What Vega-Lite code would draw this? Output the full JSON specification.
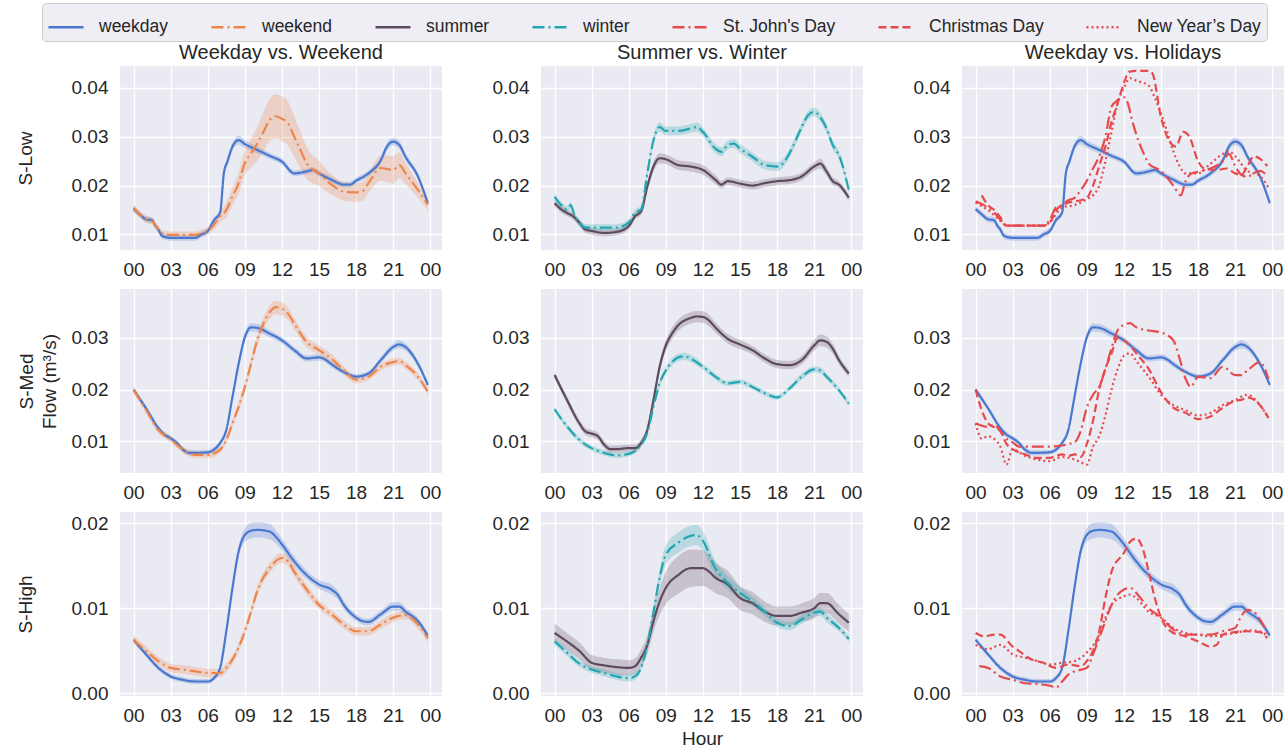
{
"$schema": "https://vega.github.io/schema/vega-lite/v6.json",
"padding": {"left": 16, "top": 2, "right": 0, "bottom": 0},
"background": "white",
"config": {
  "font": "Liberation Sans",
  "view": {"fill": "#EAEAF2", "stroke": null},
  "axis": {"grid": true, "gridColor": "#FFFFFF", "gridWidth": 1.3, "domain": false, "ticks": false, "labelFontSize": 19, "labelColor": "#262626", "titleFontSize": 19, "titleFontWeight": "normal", "titleColor": "#262626"},
  "axisX": {"labelPadding": 10, "labelFlush": false},
  "axisY": {"labelPadding": 12, "titleLineHeight": 23},
  "title": {"fontSize": 20, "fontWeight": "normal", "color": "#262626", "offset": 3}
},
"datasets": {"d": [
{"r":1,"s":"weekday","h":0,"v":0.0152,"lo":0.0146,"hi":0.0158},
{"r":1,"s":"weekday","h":0.5,"v":0.0141,"lo":0.0135,"hi":0.0147},
{"r":1,"s":"weekday","h":1,"v":0.0131,"lo":0.0125,"hi":0.0137},
{"r":1,"s":"weekday","h":1.5,"v":0.0129,"lo":0.0123,"hi":0.0135},
{"r":1,"s":"weekday","h":1.75,"v":0.0118,"lo":0.0112,"hi":0.0124},
{"r":1,"s":"weekday","h":2,"v":0.0110,"lo":0.0104,"hi":0.0116},
{"r":1,"s":"weekday","h":2.3,"v":0.0097,"lo":0.0091,"hi":0.0103},
{"r":1,"s":"weekday","h":3,"v":0.0093,"lo":0.0087,"hi":0.0099},
{"r":1,"s":"weekday","h":4,"v":0.0093,"lo":0.0087,"hi":0.0099},
{"r":1,"s":"weekday","h":5,"v":0.0093,"lo":0.0087,"hi":0.0099},
{"r":1,"s":"weekday","h":5.5,"v":0.0100,"lo":0.0094,"hi":0.0106},
{"r":1,"s":"weekday","h":6,"v":0.0107,"lo":0.0101,"hi":0.0113},
{"r":1,"s":"weekday","h":6.5,"v":0.0129,"lo":0.0123,"hi":0.0135},
{"r":1,"s":"weekday","h":7,"v":0.0145,"lo":0.0139,"hi":0.0151},
{"r":1,"s":"weekday","h":7.3,"v":0.0225,"lo":0.0218,"hi":0.0232},
{"r":1,"s":"weekday","h":7.6,"v":0.0250,"lo":0.0242,"hi":0.0258},
{"r":1,"s":"weekday","h":8,"v":0.0280,"lo":0.0272,"hi":0.0288},
{"r":1,"s":"weekday","h":8.5,"v":0.0293,"lo":0.0284,"hi":0.0302},
{"r":1,"s":"weekday","h":9,"v":0.0285,"lo":0.0277,"hi":0.0293},
{"r":1,"s":"weekday","h":10,"v":0.0273,"lo":0.0266,"hi":0.0280},
{"r":1,"s":"weekday","h":11,"v":0.0261,"lo":0.0255,"hi":0.0267},
{"r":1,"s":"weekday","h":12,"v":0.0249,"lo":0.0243,"hi":0.0255},
{"r":1,"s":"weekday","h":13,"v":0.0225,"lo":0.0219,"hi":0.0231},
{"r":1,"s":"weekday","h":14,"v":0.0229,"lo":0.0223,"hi":0.0235},
{"r":1,"s":"weekday","h":14.5,"v":0.0232,"lo":0.0226,"hi":0.0238},
{"r":1,"s":"weekday","h":15,"v":0.0225,"lo":0.0219,"hi":0.0231},
{"r":1,"s":"weekday","h":16,"v":0.0212,"lo":0.0206,"hi":0.0218},
{"r":1,"s":"weekday","h":17,"v":0.0202,"lo":0.0196,"hi":0.0208},
{"r":1,"s":"weekday","h":17.5,"v":0.0202,"lo":0.0196,"hi":0.0208},
{"r":1,"s":"weekday","h":18,"v":0.0210,"lo":0.0204,"hi":0.0216},
{"r":1,"s":"weekday","h":19,"v":0.0225,"lo":0.0219,"hi":0.0231},
{"r":1,"s":"weekday","h":20,"v":0.0252,"lo":0.0245,"hi":0.0259},
{"r":1,"s":"weekday","h":20.5,"v":0.0280,"lo":0.0272,"hi":0.0288},
{"r":1,"s":"weekday","h":21,"v":0.0290,"lo":0.0282,"hi":0.0298},
{"r":1,"s":"weekday","h":21.5,"v":0.0283,"lo":0.0275,"hi":0.0291},
{"r":1,"s":"weekday","h":22,"v":0.0259,"lo":0.0252,"hi":0.0266},
{"r":1,"s":"weekday","h":23,"v":0.0219,"lo":0.0213,"hi":0.0225},
{"r":1,"s":"weekday","h":23.8,"v":0.0164,"lo":0.0158,"hi":0.0170},
{"r":1,"s":"weekend","h":0,"v":0.0154,"lo":0.0147,"hi":0.0161},
{"r":1,"s":"weekend","h":1,"v":0.0131,"lo":0.0124,"hi":0.0138},
{"r":1,"s":"weekend","h":1.5,"v":0.0127,"lo":0.0120,"hi":0.0134},
{"r":1,"s":"weekend","h":2,"v":0.0110,"lo":0.0103,"hi":0.0117},
{"r":1,"s":"weekend","h":2.5,"v":0.0100,"lo":0.0093,"hi":0.0107},
{"r":1,"s":"weekend","h":3,"v":0.0099,"lo":0.0092,"hi":0.0106},
{"r":1,"s":"weekend","h":4,"v":0.0099,"lo":0.0092,"hi":0.0106},
{"r":1,"s":"weekend","h":5,"v":0.0099,"lo":0.0092,"hi":0.0106},
{"r":1,"s":"weekend","h":5.5,"v":0.0103,"lo":0.0096,"hi":0.0110},
{"r":1,"s":"weekend","h":6,"v":0.0107,"lo":0.0099,"hi":0.0115},
{"r":1,"s":"weekend","h":6.5,"v":0.0120,"lo":0.0110,"hi":0.0130},
{"r":1,"s":"weekend","h":7,"v":0.0137,"lo":0.0125,"hi":0.0149},
{"r":1,"s":"weekend","h":7.5,"v":0.0150,"lo":0.0135,"hi":0.0165},
{"r":1,"s":"weekend","h":8,"v":0.0178,"lo":0.0160,"hi":0.0196},
{"r":1,"s":"weekend","h":8.5,"v":0.0205,"lo":0.0183,"hi":0.0227},
{"r":1,"s":"weekend","h":9,"v":0.0246,"lo":0.0221,"hi":0.0271},
{"r":1,"s":"weekend","h":9.5,"v":0.0266,"lo":0.0236,"hi":0.0296},
{"r":1,"s":"weekend","h":10,"v":0.0286,"lo":0.0251,"hi":0.0321},
{"r":1,"s":"weekend","h":10.5,"v":0.0310,"lo":0.0270,"hi":0.0350},
{"r":1,"s":"weekend","h":11,"v":0.0334,"lo":0.0291,"hi":0.0377},
{"r":1,"s":"weekend","h":11.5,"v":0.0342,"lo":0.0297,"hi":0.0387},
{"r":1,"s":"weekend","h":12,"v":0.0337,"lo":0.0291,"hi":0.0383},
{"r":1,"s":"weekend","h":12.5,"v":0.0327,"lo":0.0282,"hi":0.0372},
{"r":1,"s":"weekend","h":13,"v":0.0300,"lo":0.0258,"hi":0.0342},
{"r":1,"s":"weekend","h":13.5,"v":0.0273,"lo":0.0235,"hi":0.0311},
{"r":1,"s":"weekend","h":14,"v":0.0246,"lo":0.0213,"hi":0.0279},
{"r":1,"s":"weekend","h":15,"v":0.0225,"lo":0.0199,"hi":0.0251},
{"r":1,"s":"weekend","h":16,"v":0.0202,"lo":0.0181,"hi":0.0223},
{"r":1,"s":"weekend","h":17,"v":0.0188,"lo":0.0169,"hi":0.0207},
{"r":1,"s":"weekend","h":18,"v":0.0186,"lo":0.0167,"hi":0.0205},
{"r":1,"s":"weekend","h":18.5,"v":0.0188,"lo":0.0169,"hi":0.0207},
{"r":1,"s":"weekend","h":19,"v":0.0205,"lo":0.0185,"hi":0.0225},
{"r":1,"s":"weekend","h":20,"v":0.0236,"lo":0.0210,"hi":0.0262},
{"r":1,"s":"weekend","h":21,"v":0.0232,"lo":0.0204,"hi":0.0260},
{"r":1,"s":"weekend","h":21.5,"v":0.0242,"lo":0.0215,"hi":0.0269},
{"r":1,"s":"weekend","h":22,"v":0.0225,"lo":0.0203,"hi":0.0247},
{"r":1,"s":"weekend","h":23,"v":0.0191,"lo":0.0175,"hi":0.0207},
{"r":1,"s":"weekend","h":23.8,"v":0.0161,"lo":0.0149,"hi":0.0173},
{"r":1,"s":"summer","h":0,"v":0.0164,"lo":0.0157,"hi":0.0171},
{"r":1,"s":"summer","h":0.5,"v":0.0152,"lo":0.0145,"hi":0.0159},
{"r":1,"s":"summer","h":1,"v":0.0144,"lo":0.0137,"hi":0.0151},
{"r":1,"s":"summer","h":1.5,"v":0.0137,"lo":0.0130,"hi":0.0144},
{"r":1,"s":"summer","h":2,"v":0.0124,"lo":0.0117,"hi":0.0131},
{"r":1,"s":"summer","h":2.5,"v":0.0110,"lo":0.0103,"hi":0.0117},
{"r":1,"s":"summer","h":3,"v":0.0107,"lo":0.0100,"hi":0.0114},
{"r":1,"s":"summer","h":4,"v":0.0103,"lo":0.0096,"hi":0.0110},
{"r":1,"s":"summer","h":5,"v":0.0105,"lo":0.0098,"hi":0.0112},
{"r":1,"s":"summer","h":6,"v":0.0117,"lo":0.0110,"hi":0.0124},
{"r":1,"s":"summer","h":6.5,"v":0.0137,"lo":0.0130,"hi":0.0144},
{"r":1,"s":"summer","h":7,"v":0.0147,"lo":0.0140,"hi":0.0154},
{"r":1,"s":"summer","h":7.5,"v":0.0198,"lo":0.0189,"hi":0.0207},
{"r":1,"s":"summer","h":8,"v":0.0239,"lo":0.0229,"hi":0.0249},
{"r":1,"s":"summer","h":8.5,"v":0.0256,"lo":0.0246,"hi":0.0266},
{"r":1,"s":"summer","h":9,"v":0.0254,"lo":0.0244,"hi":0.0264},
{"r":1,"s":"summer","h":10,"v":0.0242,"lo":0.0232,"hi":0.0252},
{"r":1,"s":"summer","h":11,"v":0.0239,"lo":0.0229,"hi":0.0249},
{"r":1,"s":"summer","h":12,"v":0.0232,"lo":0.0222,"hi":0.0242},
{"r":1,"s":"summer","h":13,"v":0.0212,"lo":0.0203,"hi":0.0221},
{"r":1,"s":"summer","h":13.5,"v":0.0202,"lo":0.0194,"hi":0.0210},
{"r":1,"s":"summer","h":14,"v":0.0209,"lo":0.0201,"hi":0.0217},
{"r":1,"s":"summer","h":15,"v":0.0204,"lo":0.0196,"hi":0.0212},
{"r":1,"s":"summer","h":16,"v":0.0200,"lo":0.0192,"hi":0.0208},
{"r":1,"s":"summer","h":17,"v":0.0205,"lo":0.0197,"hi":0.0213},
{"r":1,"s":"summer","h":18,"v":0.0209,"lo":0.0201,"hi":0.0217},
{"r":1,"s":"summer","h":19,"v":0.0211,"lo":0.0203,"hi":0.0219},
{"r":1,"s":"summer","h":20,"v":0.0219,"lo":0.0211,"hi":0.0227},
{"r":1,"s":"summer","h":21,"v":0.0239,"lo":0.0230,"hi":0.0248},
{"r":1,"s":"summer","h":21.5,"v":0.0245,"lo":0.0235,"hi":0.0255},
{"r":1,"s":"summer","h":22,"v":0.0229,"lo":0.0220,"hi":0.0238},
{"r":1,"s":"summer","h":22.5,"v":0.0209,"lo":0.0201,"hi":0.0217},
{"r":1,"s":"summer","h":23,"v":0.0202,"lo":0.0195,"hi":0.0209},
{"r":1,"s":"summer","h":23.8,"v":0.0175,"lo":0.0168,"hi":0.0182},
{"r":1,"s":"winter","h":0,"v":0.0177,"lo":0.0170,"hi":0.0184},
{"r":1,"s":"winter","h":0.5,"v":0.0161,"lo":0.0154,"hi":0.0168},
{"r":1,"s":"winter","h":1,"v":0.0151,"lo":0.0144,"hi":0.0158},
{"r":1,"s":"winter","h":1.3,"v":0.0160,"lo":0.0153,"hi":0.0167},
{"r":1,"s":"winter","h":1.6,"v":0.0140,"lo":0.0133,"hi":0.0147},
{"r":1,"s":"winter","h":2,"v":0.0124,"lo":0.0117,"hi":0.0131},
{"r":1,"s":"winter","h":2.5,"v":0.0114,"lo":0.0107,"hi":0.0121},
{"r":1,"s":"winter","h":3,"v":0.0114,"lo":0.0107,"hi":0.0121},
{"r":1,"s":"winter","h":4,"v":0.0114,"lo":0.0107,"hi":0.0121},
{"r":1,"s":"winter","h":5,"v":0.0114,"lo":0.0107,"hi":0.0121},
{"r":1,"s":"winter","h":6,"v":0.0124,"lo":0.0117,"hi":0.0131},
{"r":1,"s":"winter","h":6.5,"v":0.0144,"lo":0.0137,"hi":0.0151},
{"r":1,"s":"winter","h":7,"v":0.0151,"lo":0.0144,"hi":0.0158},
{"r":1,"s":"winter","h":7.5,"v":0.0225,"lo":0.0216,"hi":0.0234},
{"r":1,"s":"winter","h":8,"v":0.0293,"lo":0.0284,"hi":0.0302},
{"r":1,"s":"winter","h":8.5,"v":0.0320,"lo":0.0311,"hi":0.0329},
{"r":1,"s":"winter","h":9,"v":0.0312,"lo":0.0303,"hi":0.0321},
{"r":1,"s":"winter","h":10,"v":0.0312,"lo":0.0303,"hi":0.0321},
{"r":1,"s":"winter","h":11,"v":0.0317,"lo":0.0308,"hi":0.0326},
{"r":1,"s":"winter","h":11.5,"v":0.0320,"lo":0.0311,"hi":0.0329},
{"r":1,"s":"winter","h":12,"v":0.0310,"lo":0.0301,"hi":0.0319},
{"r":1,"s":"winter","h":13,"v":0.0276,"lo":0.0267,"hi":0.0285},
{"r":1,"s":"winter","h":13.5,"v":0.0269,"lo":0.0260,"hi":0.0278},
{"r":1,"s":"winter","h":14,"v":0.0283,"lo":0.0274,"hi":0.0292},
{"r":1,"s":"winter","h":14.5,"v":0.0286,"lo":0.0277,"hi":0.0295},
{"r":1,"s":"winter","h":15,"v":0.0276,"lo":0.0267,"hi":0.0285},
{"r":1,"s":"winter","h":16,"v":0.0259,"lo":0.0250,"hi":0.0268},
{"r":1,"s":"winter","h":17,"v":0.0242,"lo":0.0233,"hi":0.0251},
{"r":1,"s":"winter","h":18,"v":0.0239,"lo":0.0230,"hi":0.0248},
{"r":1,"s":"winter","h":18.5,"v":0.0246,"lo":0.0237,"hi":0.0255},
{"r":1,"s":"winter","h":19,"v":0.0266,"lo":0.0257,"hi":0.0275},
{"r":1,"s":"winter","h":20,"v":0.0320,"lo":0.0311,"hi":0.0329},
{"r":1,"s":"winter","h":20.5,"v":0.0344,"lo":0.0335,"hi":0.0353},
{"r":1,"s":"winter","h":21,"v":0.0351,"lo":0.0342,"hi":0.0360},
{"r":1,"s":"winter","h":21.5,"v":0.0340,"lo":0.0331,"hi":0.0349},
{"r":1,"s":"winter","h":22,"v":0.0317,"lo":0.0308,"hi":0.0326},
{"r":1,"s":"winter","h":22.5,"v":0.0283,"lo":0.0274,"hi":0.0292},
{"r":1,"s":"winter","h":23,"v":0.0263,"lo":0.0255,"hi":0.0271},
{"r":1,"s":"winter","h":23.8,"v":0.0191,"lo":0.0184,"hi":0.0198},
{"r":1,"s":"St. John's Day","h":0,"v":0.0168},
{"r":1,"s":"St. John's Day","h":1,"v":0.0155},
{"r":1,"s":"St. John's Day","h":1.5,"v":0.0145},
{"r":1,"s":"St. John's Day","h":2,"v":0.0130},
{"r":1,"s":"St. John's Day","h":2.5,"v":0.0118},
{"r":1,"s":"St. John's Day","h":3,"v":0.0118},
{"r":1,"s":"St. John's Day","h":4,"v":0.0118},
{"r":1,"s":"St. John's Day","h":5,"v":0.0118},
{"r":1,"s":"St. John's Day","h":5.5,"v":0.0118},
{"r":1,"s":"St. John's Day","h":6,"v":0.0130},
{"r":1,"s":"St. John's Day","h":6.5,"v":0.0155},
{"r":1,"s":"St. John's Day","h":7,"v":0.0160},
{"r":1,"s":"St. John's Day","h":7.5,"v":0.0170},
{"r":1,"s":"St. John's Day","h":8,"v":0.0175},
{"r":1,"s":"St. John's Day","h":8.5,"v":0.0190},
{"r":1,"s":"St. John's Day","h":9,"v":0.0210},
{"r":1,"s":"St. John's Day","h":9.5,"v":0.0235},
{"r":1,"s":"St. John's Day","h":10,"v":0.0260},
{"r":1,"s":"St. John's Day","h":10.5,"v":0.0300},
{"r":1,"s":"St. John's Day","h":11,"v":0.0362},
{"r":1,"s":"St. John's Day","h":11.5,"v":0.0375},
{"r":1,"s":"St. John's Day","h":12,"v":0.0381},
{"r":1,"s":"St. John's Day","h":12.3,"v":0.0370},
{"r":1,"s":"St. John's Day","h":12.7,"v":0.0330},
{"r":1,"s":"St. John's Day","h":13.2,"v":0.0290},
{"r":1,"s":"St. John's Day","h":13.7,"v":0.0260},
{"r":1,"s":"St. John's Day","h":14,"v":0.0245},
{"r":1,"s":"St. John's Day","h":15,"v":0.0230},
{"r":1,"s":"St. John's Day","h":16,"v":0.0200},
{"r":1,"s":"St. John's Day","h":16.6,"v":0.0180},
{"r":1,"s":"St. John's Day","h":17,"v":0.0210},
{"r":1,"s":"St. John's Day","h":17.5,"v":0.0225},
{"r":1,"s":"St. John's Day","h":18,"v":0.0228},
{"r":1,"s":"St. John's Day","h":19,"v":0.0235},
{"r":1,"s":"St. John's Day","h":20,"v":0.0250},
{"r":1,"s":"St. John's Day","h":20.5,"v":0.0265},
{"r":1,"s":"St. John's Day","h":21,"v":0.0240},
{"r":1,"s":"St. John's Day","h":21.5,"v":0.0222},
{"r":1,"s":"St. John's Day","h":22,"v":0.0218},
{"r":1,"s":"St. John's Day","h":22.5,"v":0.0225},
{"r":1,"s":"St. John's Day","h":23,"v":0.0230},
{"r":1,"s":"St. John's Day","h":23.6,"v":0.0220},
{"r":1,"s":"Christmas Day","h":0.5,"v":0.0180},
{"r":1,"s":"Christmas Day","h":1,"v":0.0160},
{"r":1,"s":"Christmas Day","h":1.5,"v":0.0150},
{"r":1,"s":"Christmas Day","h":2,"v":0.0135},
{"r":1,"s":"Christmas Day","h":2.5,"v":0.0118},
{"r":1,"s":"Christmas Day","h":3,"v":0.0118},
{"r":1,"s":"Christmas Day","h":4,"v":0.0118},
{"r":1,"s":"Christmas Day","h":5,"v":0.0118},
{"r":1,"s":"Christmas Day","h":5.5,"v":0.0118},
{"r":1,"s":"Christmas Day","h":6,"v":0.0125},
{"r":1,"s":"Christmas Day","h":6.7,"v":0.0155},
{"r":1,"s":"Christmas Day","h":7.5,"v":0.0165},
{"r":1,"s":"Christmas Day","h":8.5,"v":0.0170},
{"r":1,"s":"Christmas Day","h":9,"v":0.0175},
{"r":1,"s":"Christmas Day","h":9.5,"v":0.0200},
{"r":1,"s":"Christmas Day","h":10,"v":0.0240},
{"r":1,"s":"Christmas Day","h":10.5,"v":0.0280},
{"r":1,"s":"Christmas Day","h":11,"v":0.0330},
{"r":1,"s":"Christmas Day","h":11.5,"v":0.0370},
{"r":1,"s":"Christmas Day","h":12,"v":0.0410},
{"r":1,"s":"Christmas Day","h":12.4,"v":0.0433},
{"r":1,"s":"Christmas Day","h":13,"v":0.0435},
{"r":1,"s":"Christmas Day","h":14,"v":0.0435},
{"r":1,"s":"Christmas Day","h":14.3,"v":0.0430},
{"r":1,"s":"Christmas Day","h":15,"v":0.0340},
{"r":1,"s":"Christmas Day","h":15.7,"v":0.0290},
{"r":1,"s":"Christmas Day","h":16.2,"v":0.0280},
{"r":1,"s":"Christmas Day","h":16.8,"v":0.0310},
{"r":1,"s":"Christmas Day","h":17.3,"v":0.0300},
{"r":1,"s":"Christmas Day","h":18,"v":0.0250},
{"r":1,"s":"Christmas Day","h":18.5,"v":0.0235},
{"r":1,"s":"Christmas Day","h":19.5,"v":0.0232},
{"r":1,"s":"Christmas Day","h":20.3,"v":0.0235},
{"r":1,"s":"Christmas Day","h":21,"v":0.0225},
{"r":1,"s":"Christmas Day","h":21.5,"v":0.0222},
{"r":1,"s":"Christmas Day","h":22,"v":0.0240},
{"r":1,"s":"Christmas Day","h":22.5,"v":0.0260},
{"r":1,"s":"Christmas Day","h":23,"v":0.0255},
{"r":1,"s":"Christmas Day","h":23.6,"v":0.0240},
{"r":1,"s":"New Year’s Day","h":0,"v":0.0165},
{"r":1,"s":"New Year’s Day","h":1,"v":0.0150},
{"r":1,"s":"New Year’s Day","h":2,"v":0.0128},
{"r":1,"s":"New Year’s Day","h":2.5,"v":0.0118},
{"r":1,"s":"New Year’s Day","h":3,"v":0.0118},
{"r":1,"s":"New Year’s Day","h":4,"v":0.0118},
{"r":1,"s":"New Year’s Day","h":5,"v":0.0118},
{"r":1,"s":"New Year’s Day","h":5.5,"v":0.0118},
{"r":1,"s":"New Year’s Day","h":6,"v":0.0125},
{"r":1,"s":"New Year’s Day","h":7,"v":0.0155},
{"r":1,"s":"New Year’s Day","h":8,"v":0.0160},
{"r":1,"s":"New Year’s Day","h":9,"v":0.0172},
{"r":1,"s":"New Year’s Day","h":9.5,"v":0.0180},
{"r":1,"s":"New Year’s Day","h":10,"v":0.0200},
{"r":1,"s":"New Year’s Day","h":10.5,"v":0.0250},
{"r":1,"s":"New Year’s Day","h":11,"v":0.0310},
{"r":1,"s":"New Year’s Day","h":11.5,"v":0.0370},
{"r":1,"s":"New Year’s Day","h":12,"v":0.0400},
{"r":1,"s":"New Year’s Day","h":12.5,"v":0.0420},
{"r":1,"s":"New Year’s Day","h":13,"v":0.0415},
{"r":1,"s":"New Year’s Day","h":14,"v":0.0405},
{"r":1,"s":"New Year’s Day","h":14.5,"v":0.0380},
{"r":1,"s":"New Year’s Day","h":15.5,"v":0.0310},
{"r":1,"s":"New Year’s Day","h":16,"v":0.0270},
{"r":1,"s":"New Year’s Day","h":16.5,"v":0.0240},
{"r":1,"s":"New Year’s Day","h":17,"v":0.0225},
{"r":1,"s":"New Year’s Day","h":18,"v":0.0225},
{"r":1,"s":"New Year’s Day","h":19,"v":0.0245},
{"r":1,"s":"New Year’s Day","h":20,"v":0.0265},
{"r":1,"s":"New Year’s Day","h":20.5,"v":0.0270},
{"r":1,"s":"New Year’s Day","h":21,"v":0.0260},
{"r":1,"s":"New Year’s Day","h":22,"v":0.0230},
{"r":1,"s":"New Year’s Day","h":22.5,"v":0.0225},
{"r":1,"s":"New Year’s Day","h":23,"v":0.0220},
{"r":1,"s":"New Year’s Day","h":23.7,"v":0.0195},
{"r":2,"s":"weekday","h":0,"v":0.0200,"lo":0.0195,"hi":0.0205},
{"r":2,"s":"weekday","h":1,"v":0.0164,"lo":0.0159,"hi":0.0169},
{"r":2,"s":"weekday","h":2,"v":0.0126,"lo":0.0121,"hi":0.0131},
{"r":2,"s":"weekday","h":2.5,"v":0.0113,"lo":0.0108,"hi":0.0118},
{"r":2,"s":"weekday","h":3,"v":0.0106,"lo":0.0101,"hi":0.0111},
{"r":2,"s":"weekday","h":3.5,"v":0.0097,"lo":0.0092,"hi":0.0102},
{"r":2,"s":"weekday","h":4,"v":0.0084,"lo":0.0079,"hi":0.0089},
{"r":2,"s":"weekday","h":4.5,"v":0.0078,"lo":0.0073,"hi":0.0083},
{"r":2,"s":"weekday","h":5,"v":0.0078,"lo":0.0073,"hi":0.0083},
{"r":2,"s":"weekday","h":6,"v":0.0079,"lo":0.0074,"hi":0.0084},
{"r":2,"s":"weekday","h":6.5,"v":0.0084,"lo":0.0079,"hi":0.0089},
{"r":2,"s":"weekday","h":7,"v":0.0097,"lo":0.0092,"hi":0.0102},
{"r":2,"s":"weekday","h":7.5,"v":0.0122,"lo":0.0116,"hi":0.0128},
{"r":2,"s":"weekday","h":8,"v":0.0186,"lo":0.0179,"hi":0.0193},
{"r":2,"s":"weekday","h":8.5,"v":0.0250,"lo":0.0243,"hi":0.0257},
{"r":2,"s":"weekday","h":9,"v":0.0301,"lo":0.0293,"hi":0.0309},
{"r":2,"s":"weekday","h":9.5,"v":0.0320,"lo":0.0312,"hi":0.0328},
{"r":2,"s":"weekday","h":10,"v":0.0319,"lo":0.0311,"hi":0.0327},
{"r":2,"s":"weekday","h":11,"v":0.0308,"lo":0.0301,"hi":0.0315},
{"r":2,"s":"weekday","h":12,"v":0.0295,"lo":0.0289,"hi":0.0301},
{"r":2,"s":"weekday","h":13,"v":0.0276,"lo":0.0270,"hi":0.0282},
{"r":2,"s":"weekday","h":14,"v":0.0260,"lo":0.0254,"hi":0.0266},
{"r":2,"s":"weekday","h":15,"v":0.0262,"lo":0.0256,"hi":0.0268},
{"r":2,"s":"weekday","h":15.5,"v":0.0258,"lo":0.0252,"hi":0.0264},
{"r":2,"s":"weekday","h":16,"v":0.0249,"lo":0.0243,"hi":0.0255},
{"r":2,"s":"weekday","h":17,"v":0.0234,"lo":0.0229,"hi":0.0239},
{"r":2,"s":"weekday","h":18,"v":0.0225,"lo":0.0220,"hi":0.0230},
{"r":2,"s":"weekday","h":19,"v":0.0231,"lo":0.0226,"hi":0.0236},
{"r":2,"s":"weekday","h":20,"v":0.0257,"lo":0.0251,"hi":0.0263},
{"r":2,"s":"weekday","h":21,"v":0.0282,"lo":0.0275,"hi":0.0289},
{"r":2,"s":"weekday","h":21.5,"v":0.0287,"lo":0.0279,"hi":0.0295},
{"r":2,"s":"weekday","h":22,"v":0.0282,"lo":0.0275,"hi":0.0289},
{"r":2,"s":"weekday","h":23,"v":0.0250,"lo":0.0244,"hi":0.0256},
{"r":2,"s":"weekday","h":23.8,"v":0.0209,"lo":0.0204,"hi":0.0214},
{"r":2,"s":"weekend","h":0,"v":0.0199,"lo":0.0193,"hi":0.0205},
{"r":2,"s":"weekend","h":1,"v":0.0161,"lo":0.0155,"hi":0.0167},
{"r":2,"s":"weekend","h":2,"v":0.0122,"lo":0.0116,"hi":0.0128},
{"r":2,"s":"weekend","h":3,"v":0.0104,"lo":0.0098,"hi":0.0110},
{"r":2,"s":"weekend","h":4,"v":0.0084,"lo":0.0078,"hi":0.0090},
{"r":2,"s":"weekend","h":5,"v":0.0074,"lo":0.0068,"hi":0.0080},
{"r":2,"s":"weekend","h":6,"v":0.0074,"lo":0.0068,"hi":0.0080},
{"r":2,"s":"weekend","h":7,"v":0.0084,"lo":0.0078,"hi":0.0090},
{"r":2,"s":"weekend","h":7.5,"v":0.0103,"lo":0.0096,"hi":0.0110},
{"r":2,"s":"weekend","h":8,"v":0.0135,"lo":0.0127,"hi":0.0143},
{"r":2,"s":"weekend","h":8.5,"v":0.0167,"lo":0.0158,"hi":0.0176},
{"r":2,"s":"weekend","h":9,"v":0.0205,"lo":0.0195,"hi":0.0215},
{"r":2,"s":"weekend","h":9.5,"v":0.0250,"lo":0.0240,"hi":0.0260},
{"r":2,"s":"weekend","h":10,"v":0.0295,"lo":0.0284,"hi":0.0306},
{"r":2,"s":"weekend","h":10.5,"v":0.0327,"lo":0.0315,"hi":0.0339},
{"r":2,"s":"weekend","h":11,"v":0.0349,"lo":0.0336,"hi":0.0362},
{"r":2,"s":"weekend","h":11.5,"v":0.0359,"lo":0.0346,"hi":0.0372},
{"r":2,"s":"weekend","h":12,"v":0.0356,"lo":0.0343,"hi":0.0369},
{"r":2,"s":"weekend","h":12.5,"v":0.0346,"lo":0.0334,"hi":0.0358},
{"r":2,"s":"weekend","h":13,"v":0.0327,"lo":0.0316,"hi":0.0338},
{"r":2,"s":"weekend","h":14,"v":0.0292,"lo":0.0282,"hi":0.0302},
{"r":2,"s":"weekend","h":15,"v":0.0276,"lo":0.0267,"hi":0.0285},
{"r":2,"s":"weekend","h":16,"v":0.0260,"lo":0.0251,"hi":0.0269},
{"r":2,"s":"weekend","h":17,"v":0.0237,"lo":0.0229,"hi":0.0245},
{"r":2,"s":"weekend","h":18,"v":0.0219,"lo":0.0212,"hi":0.0226},
{"r":2,"s":"weekend","h":19,"v":0.0225,"lo":0.0218,"hi":0.0232},
{"r":2,"s":"weekend","h":20,"v":0.0244,"lo":0.0237,"hi":0.0251},
{"r":2,"s":"weekend","h":21,"v":0.0253,"lo":0.0246,"hi":0.0260},
{"r":2,"s":"weekend","h":21.5,"v":0.0255,"lo":0.0248,"hi":0.0262},
{"r":2,"s":"weekend","h":22,"v":0.0247,"lo":0.0240,"hi":0.0254},
{"r":2,"s":"weekend","h":23,"v":0.0225,"lo":0.0218,"hi":0.0232},
{"r":2,"s":"weekend","h":23.8,"v":0.0196,"lo":0.0190,"hi":0.0202},
{"r":2,"s":"summer","h":0,"v":0.0228,"lo":0.0221,"hi":0.0235},
{"r":2,"s":"summer","h":1,"v":0.0180,"lo":0.0173,"hi":0.0187},
{"r":2,"s":"summer","h":2,"v":0.0135,"lo":0.0128,"hi":0.0142},
{"r":2,"s":"summer","h":2.5,"v":0.0119,"lo":0.0112,"hi":0.0126},
{"r":2,"s":"summer","h":3,"v":0.0115,"lo":0.0108,"hi":0.0122},
{"r":2,"s":"summer","h":3.5,"v":0.0110,"lo":0.0103,"hi":0.0117},
{"r":2,"s":"summer","h":4,"v":0.0094,"lo":0.0087,"hi":0.0101},
{"r":2,"s":"summer","h":4.5,"v":0.0085,"lo":0.0078,"hi":0.0092},
{"r":2,"s":"summer","h":5,"v":0.0085,"lo":0.0078,"hi":0.0092},
{"r":2,"s":"summer","h":6,"v":0.0087,"lo":0.0080,"hi":0.0094},
{"r":2,"s":"summer","h":6.5,"v":0.0087,"lo":0.0080,"hi":0.0094},
{"r":2,"s":"summer","h":7,"v":0.0097,"lo":0.0090,"hi":0.0104},
{"r":2,"s":"summer","h":7.5,"v":0.0122,"lo":0.0114,"hi":0.0130},
{"r":2,"s":"summer","h":8,"v":0.0180,"lo":0.0171,"hi":0.0189},
{"r":2,"s":"summer","h":8.5,"v":0.0244,"lo":0.0234,"hi":0.0254},
{"r":2,"s":"summer","h":9,"v":0.0285,"lo":0.0274,"hi":0.0296},
{"r":2,"s":"summer","h":9.5,"v":0.0308,"lo":0.0297,"hi":0.0319},
{"r":2,"s":"summer","h":10,"v":0.0324,"lo":0.0313,"hi":0.0335},
{"r":2,"s":"summer","h":11,"v":0.0338,"lo":0.0327,"hi":0.0349},
{"r":2,"s":"summer","h":11.5,"v":0.0341,"lo":0.0330,"hi":0.0352},
{"r":2,"s":"summer","h":12,"v":0.0340,"lo":0.0329,"hi":0.0351},
{"r":2,"s":"summer","h":12.5,"v":0.0333,"lo":0.0322,"hi":0.0344},
{"r":2,"s":"summer","h":13,"v":0.0320,"lo":0.0310,"hi":0.0330},
{"r":2,"s":"summer","h":14,"v":0.0298,"lo":0.0289,"hi":0.0307},
{"r":2,"s":"summer","h":15,"v":0.0287,"lo":0.0278,"hi":0.0296},
{"r":2,"s":"summer","h":16,"v":0.0276,"lo":0.0268,"hi":0.0284},
{"r":2,"s":"summer","h":17,"v":0.0260,"lo":0.0252,"hi":0.0268},
{"r":2,"s":"summer","h":18,"v":0.0249,"lo":0.0241,"hi":0.0257},
{"r":2,"s":"summer","h":19,"v":0.0247,"lo":0.0239,"hi":0.0255},
{"r":2,"s":"summer","h":20,"v":0.0257,"lo":0.0249,"hi":0.0265},
{"r":2,"s":"summer","h":21,"v":0.0285,"lo":0.0275,"hi":0.0295},
{"r":2,"s":"summer","h":21.5,"v":0.0295,"lo":0.0284,"hi":0.0306},
{"r":2,"s":"summer","h":22,"v":0.0292,"lo":0.0281,"hi":0.0303},
{"r":2,"s":"summer","h":22.5,"v":0.0279,"lo":0.0269,"hi":0.0289},
{"r":2,"s":"summer","h":23,"v":0.0257,"lo":0.0249,"hi":0.0265},
{"r":2,"s":"summer","h":23.8,"v":0.0231,"lo":0.0224,"hi":0.0238},
{"r":2,"s":"winter","h":0,"v":0.0162,"lo":0.0157,"hi":0.0167},
{"r":2,"s":"winter","h":1,"v":0.0129,"lo":0.0124,"hi":0.0134},
{"r":2,"s":"winter","h":2,"v":0.0103,"lo":0.0098,"hi":0.0108},
{"r":2,"s":"winter","h":3,"v":0.0087,"lo":0.0082,"hi":0.0092},
{"r":2,"s":"winter","h":4,"v":0.0078,"lo":0.0073,"hi":0.0083},
{"r":2,"s":"winter","h":5,"v":0.0073,"lo":0.0068,"hi":0.0078},
{"r":2,"s":"winter","h":6,"v":0.0076,"lo":0.0071,"hi":0.0081},
{"r":2,"s":"winter","h":6.5,"v":0.0081,"lo":0.0076,"hi":0.0086},
{"r":2,"s":"winter","h":7,"v":0.0094,"lo":0.0089,"hi":0.0099},
{"r":2,"s":"winter","h":7.5,"v":0.0116,"lo":0.0111,"hi":0.0121},
{"r":2,"s":"winter","h":8,"v":0.0167,"lo":0.0161,"hi":0.0173},
{"r":2,"s":"winter","h":8.5,"v":0.0212,"lo":0.0205,"hi":0.0219},
{"r":2,"s":"winter","h":9,"v":0.0237,"lo":0.0230,"hi":0.0244},
{"r":2,"s":"winter","h":9.5,"v":0.0253,"lo":0.0246,"hi":0.0260},
{"r":2,"s":"winter","h":10,"v":0.0262,"lo":0.0255,"hi":0.0269},
{"r":2,"s":"winter","h":10.5,"v":0.0264,"lo":0.0257,"hi":0.0271},
{"r":2,"s":"winter","h":11,"v":0.0260,"lo":0.0253,"hi":0.0267},
{"r":2,"s":"winter","h":12,"v":0.0244,"lo":0.0238,"hi":0.0250},
{"r":2,"s":"winter","h":13,"v":0.0225,"lo":0.0219,"hi":0.0231},
{"r":2,"s":"winter","h":14,"v":0.0212,"lo":0.0207,"hi":0.0217},
{"r":2,"s":"winter","h":15,"v":0.0215,"lo":0.0210,"hi":0.0220},
{"r":2,"s":"winter","h":16,"v":0.0205,"lo":0.0200,"hi":0.0210},
{"r":2,"s":"winter","h":17,"v":0.0193,"lo":0.0188,"hi":0.0198},
{"r":2,"s":"winter","h":18,"v":0.0185,"lo":0.0180,"hi":0.0190},
{"r":2,"s":"winter","h":19,"v":0.0202,"lo":0.0197,"hi":0.0207},
{"r":2,"s":"winter","h":20,"v":0.0225,"lo":0.0219,"hi":0.0231},
{"r":2,"s":"winter","h":21,"v":0.0239,"lo":0.0233,"hi":0.0245},
{"r":2,"s":"winter","h":21.5,"v":0.0237,"lo":0.0231,"hi":0.0243},
{"r":2,"s":"winter","h":22,"v":0.0225,"lo":0.0219,"hi":0.0231},
{"r":2,"s":"winter","h":23,"v":0.0199,"lo":0.0194,"hi":0.0204},
{"r":2,"s":"winter","h":23.8,"v":0.0173,"lo":0.0168,"hi":0.0178},
{"r":2,"s":"St. John's Day","h":0,"v":0.0135},
{"r":2,"s":"St. John's Day","h":1,"v":0.0128},
{"r":2,"s":"St. John's Day","h":1.5,"v":0.0132},
{"r":2,"s":"St. John's Day","h":2,"v":0.0120},
{"r":2,"s":"St. John's Day","h":2.5,"v":0.0105},
{"r":2,"s":"St. John's Day","h":3,"v":0.0098},
{"r":2,"s":"St. John's Day","h":3.5,"v":0.0090},
{"r":2,"s":"St. John's Day","h":4,"v":0.0090},
{"r":2,"s":"St. John's Day","h":5,"v":0.0090},
{"r":2,"s":"St. John's Day","h":6,"v":0.0090},
{"r":2,"s":"St. John's Day","h":7,"v":0.0092},
{"r":2,"s":"St. John's Day","h":7.5,"v":0.0095},
{"r":2,"s":"St. John's Day","h":8,"v":0.0098},
{"r":2,"s":"St. John's Day","h":8.5,"v":0.0120},
{"r":2,"s":"St. John's Day","h":9,"v":0.0165},
{"r":2,"s":"St. John's Day","h":9.5,"v":0.0190},
{"r":2,"s":"St. John's Day","h":10,"v":0.0205},
{"r":2,"s":"St. John's Day","h":10.5,"v":0.0240},
{"r":2,"s":"St. John's Day","h":11,"v":0.0280},
{"r":2,"s":"St. John's Day","h":11.5,"v":0.0315},
{"r":2,"s":"St. John's Day","h":12,"v":0.0325},
{"r":2,"s":"St. John's Day","h":12.5,"v":0.0328},
{"r":2,"s":"St. John's Day","h":13,"v":0.0320},
{"r":2,"s":"St. John's Day","h":14,"v":0.0314},
{"r":2,"s":"St. John's Day","h":15,"v":0.0310},
{"r":2,"s":"St. John's Day","h":16,"v":0.0295},
{"r":2,"s":"St. John's Day","h":16.5,"v":0.0260},
{"r":2,"s":"St. John's Day","h":17,"v":0.0220},
{"r":2,"s":"St. John's Day","h":17.4,"v":0.0205},
{"r":2,"s":"St. John's Day","h":18,"v":0.0225},
{"r":2,"s":"St. John's Day","h":19,"v":0.0222},
{"r":2,"s":"St. John's Day","h":20,"v":0.0244},
{"r":2,"s":"St. John's Day","h":21,"v":0.0228},
{"r":2,"s":"St. John's Day","h":21.5,"v":0.0228},
{"r":2,"s":"St. John's Day","h":22,"v":0.0237},
{"r":2,"s":"St. John's Day","h":23,"v":0.0253},
{"r":2,"s":"St. John's Day","h":23.7,"v":0.0220},
{"r":2,"s":"Christmas Day","h":0,"v":0.0200},
{"r":2,"s":"Christmas Day","h":0.5,"v":0.0160},
{"r":2,"s":"Christmas Day","h":1,"v":0.0135},
{"r":2,"s":"Christmas Day","h":2,"v":0.0120},
{"r":2,"s":"Christmas Day","h":2.5,"v":0.0095},
{"r":2,"s":"Christmas Day","h":3,"v":0.0085},
{"r":2,"s":"Christmas Day","h":4,"v":0.0075},
{"r":2,"s":"Christmas Day","h":5,"v":0.0068},
{"r":2,"s":"Christmas Day","h":6,"v":0.0068},
{"r":2,"s":"Christmas Day","h":6.5,"v":0.0072},
{"r":2,"s":"Christmas Day","h":7,"v":0.0075},
{"r":2,"s":"Christmas Day","h":7.5,"v":0.0072},
{"r":2,"s":"Christmas Day","h":8,"v":0.0075},
{"r":2,"s":"Christmas Day","h":8.5,"v":0.0070},
{"r":2,"s":"Christmas Day","h":9,"v":0.0095},
{"r":2,"s":"Christmas Day","h":9.5,"v":0.0140},
{"r":2,"s":"Christmas Day","h":10,"v":0.0200},
{"r":2,"s":"Christmas Day","h":10.5,"v":0.0240},
{"r":2,"s":"Christmas Day","h":11,"v":0.0270},
{"r":2,"s":"Christmas Day","h":11.5,"v":0.0300},
{"r":2,"s":"Christmas Day","h":12,"v":0.0295},
{"r":2,"s":"Christmas Day","h":12.5,"v":0.0285},
{"r":2,"s":"Christmas Day","h":13,"v":0.0270},
{"r":2,"s":"Christmas Day","h":14,"v":0.0240},
{"r":2,"s":"Christmas Day","h":15,"v":0.0195},
{"r":2,"s":"Christmas Day","h":16,"v":0.0165},
{"r":2,"s":"Christmas Day","h":17,"v":0.0155},
{"r":2,"s":"Christmas Day","h":18,"v":0.0143},
{"r":2,"s":"Christmas Day","h":19,"v":0.0148},
{"r":2,"s":"Christmas Day","h":20,"v":0.0165},
{"r":2,"s":"Christmas Day","h":21,"v":0.0178},
{"r":2,"s":"Christmas Day","h":21.5,"v":0.0180},
{"r":2,"s":"Christmas Day","h":22,"v":0.0185},
{"r":2,"s":"Christmas Day","h":23,"v":0.0170},
{"r":2,"s":"Christmas Day","h":23.7,"v":0.0145},
{"r":2,"s":"New Year’s Day","h":0,"v":0.0135},
{"r":2,"s":"New Year’s Day","h":0.5,"v":0.0105},
{"r":2,"s":"New Year’s Day","h":1,"v":0.0110},
{"r":2,"s":"New Year’s Day","h":1.5,"v":0.0105},
{"r":2,"s":"New Year’s Day","h":2,"v":0.0090},
{"r":2,"s":"New Year’s Day","h":2.5,"v":0.0055},
{"r":2,"s":"New Year’s Day","h":3,"v":0.0085},
{"r":2,"s":"New Year’s Day","h":4,"v":0.0072},
{"r":2,"s":"New Year’s Day","h":5,"v":0.0065},
{"r":2,"s":"New Year’s Day","h":6,"v":0.0062},
{"r":2,"s":"New Year’s Day","h":7,"v":0.0070},
{"r":2,"s":"New Year’s Day","h":8,"v":0.0065},
{"r":2,"s":"New Year’s Day","h":8.5,"v":0.0060},
{"r":2,"s":"New Year’s Day","h":9,"v":0.0055},
{"r":2,"s":"New Year’s Day","h":9.5,"v":0.0090},
{"r":2,"s":"New Year’s Day","h":10,"v":0.0110},
{"r":2,"s":"New Year’s Day","h":10.5,"v":0.0150},
{"r":2,"s":"New Year’s Day","h":11,"v":0.0200},
{"r":2,"s":"New Year’s Day","h":11.5,"v":0.0240},
{"r":2,"s":"New Year’s Day","h":12,"v":0.0265},
{"r":2,"s":"New Year’s Day","h":12.5,"v":0.0270},
{"r":2,"s":"New Year’s Day","h":13,"v":0.0255},
{"r":2,"s":"New Year’s Day","h":14,"v":0.0225},
{"r":2,"s":"New Year’s Day","h":15,"v":0.0190},
{"r":2,"s":"New Year’s Day","h":16,"v":0.0170},
{"r":2,"s":"New Year’s Day","h":17,"v":0.0160},
{"r":2,"s":"New Year’s Day","h":18,"v":0.0150},
{"r":2,"s":"New Year’s Day","h":19,"v":0.0155},
{"r":2,"s":"New Year’s Day","h":20,"v":0.0170},
{"r":2,"s":"New Year’s Day","h":21,"v":0.0180},
{"r":2,"s":"New Year’s Day","h":22,"v":0.0190},
{"r":2,"s":"New Year’s Day","h":23,"v":0.0170},
{"r":2,"s":"New Year’s Day","h":23.7,"v":0.0145},
{"r":3,"s":"weekday","h":0,"v":0.0063,"lo":0.0060,"hi":0.0066},
{"r":3,"s":"weekday","h":1,"v":0.0046,"lo":0.0043,"hi":0.0049},
{"r":3,"s":"weekday","h":2,"v":0.0030,"lo":0.0027,"hi":0.0033},
{"r":3,"s":"weekday","h":3,"v":0.0020,"lo":0.0017,"hi":0.0023},
{"r":3,"s":"weekday","h":4,"v":0.0016,"lo":0.0013,"hi":0.0019},
{"r":3,"s":"weekday","h":5,"v":0.0014,"lo":0.0011,"hi":0.0017},
{"r":3,"s":"weekday","h":6,"v":0.0014,"lo":0.0011,"hi":0.0017},
{"r":3,"s":"weekday","h":6.5,"v":0.0018,"lo":0.0015,"hi":0.0021},
{"r":3,"s":"weekday","h":7,"v":0.0030,"lo":0.0027,"hi":0.0033},
{"r":3,"s":"weekday","h":7.5,"v":0.0073,"lo":0.0069,"hi":0.0077},
{"r":3,"s":"weekday","h":8,"v":0.0124,"lo":0.0119,"hi":0.0129},
{"r":3,"s":"weekday","h":8.5,"v":0.0167,"lo":0.0161,"hi":0.0173},
{"r":3,"s":"weekday","h":9,"v":0.0186,"lo":0.0178,"hi":0.0194},
{"r":3,"s":"weekday","h":9.5,"v":0.0191,"lo":0.0182,"hi":0.0200},
{"r":3,"s":"weekday","h":10,"v":0.0192,"lo":0.0183,"hi":0.0201},
{"r":3,"s":"weekday","h":11,"v":0.0190,"lo":0.0181,"hi":0.0199},
{"r":3,"s":"weekday","h":11.5,"v":0.0184,"lo":0.0176,"hi":0.0192},
{"r":3,"s":"weekday","h":12,"v":0.0175,"lo":0.0168,"hi":0.0182},
{"r":3,"s":"weekday","h":13,"v":0.0155,"lo":0.0149,"hi":0.0161},
{"r":3,"s":"weekday","h":14,"v":0.0139,"lo":0.0134,"hi":0.0144},
{"r":3,"s":"weekday","h":15,"v":0.0128,"lo":0.0123,"hi":0.0133},
{"r":3,"s":"weekday","h":16,"v":0.0122,"lo":0.0116,"hi":0.0128},
{"r":3,"s":"weekday","h":16.5,"v":0.0116,"lo":0.0111,"hi":0.0121},
{"r":3,"s":"weekday","h":17,"v":0.0104,"lo":0.0099,"hi":0.0109},
{"r":3,"s":"weekday","h":18,"v":0.0089,"lo":0.0085,"hi":0.0093},
{"r":3,"s":"weekday","h":18.5,"v":0.0085,"lo":0.0081,"hi":0.0089},
{"r":3,"s":"weekday","h":19,"v":0.0084,"lo":0.0080,"hi":0.0088},
{"r":3,"s":"weekday","h":20,"v":0.0093,"lo":0.0089,"hi":0.0097},
{"r":3,"s":"weekday","h":21,"v":0.0102,"lo":0.0097,"hi":0.0107},
{"r":3,"s":"weekday","h":21.5,"v":0.0102,"lo":0.0097,"hi":0.0107},
{"r":3,"s":"weekday","h":22,"v":0.0096,"lo":0.0091,"hi":0.0101},
{"r":3,"s":"weekday","h":23,"v":0.0085,"lo":0.0081,"hi":0.0089},
{"r":3,"s":"weekday","h":23.8,"v":0.0068,"lo":0.0064,"hi":0.0072},
{"r":3,"s":"weekend","h":0,"v":0.0063,"lo":0.0058,"hi":0.0068},
{"r":3,"s":"weekend","h":1,"v":0.0050,"lo":0.0045,"hi":0.0055},
{"r":3,"s":"weekend","h":2,"v":0.0038,"lo":0.0033,"hi":0.0043},
{"r":3,"s":"weekend","h":3,"v":0.0030,"lo":0.0025,"hi":0.0035},
{"r":3,"s":"weekend","h":4,"v":0.0028,"lo":0.0023,"hi":0.0033},
{"r":3,"s":"weekend","h":5,"v":0.0026,"lo":0.0021,"hi":0.0031},
{"r":3,"s":"weekend","h":6,"v":0.0024,"lo":0.0019,"hi":0.0029},
{"r":3,"s":"weekend","h":7,"v":0.0024,"lo":0.0019,"hi":0.0029},
{"r":3,"s":"weekend","h":7.5,"v":0.0030,"lo":0.0025,"hi":0.0035},
{"r":3,"s":"weekend","h":8,"v":0.0040,"lo":0.0035,"hi":0.0045},
{"r":3,"s":"weekend","h":8.5,"v":0.0054,"lo":0.0049,"hi":0.0059},
{"r":3,"s":"weekend","h":9,"v":0.0073,"lo":0.0068,"hi":0.0078},
{"r":3,"s":"weekend","h":9.5,"v":0.0096,"lo":0.0091,"hi":0.0101},
{"r":3,"s":"weekend","h":10,"v":0.0120,"lo":0.0114,"hi":0.0126},
{"r":3,"s":"weekend","h":11,"v":0.0147,"lo":0.0141,"hi":0.0153},
{"r":3,"s":"weekend","h":12,"v":0.0159,"lo":0.0153,"hi":0.0165},
{"r":3,"s":"weekend","h":12.5,"v":0.0155,"lo":0.0149,"hi":0.0161},
{"r":3,"s":"weekend","h":13,"v":0.0143,"lo":0.0137,"hi":0.0149},
{"r":3,"s":"weekend","h":14,"v":0.0122,"lo":0.0116,"hi":0.0128},
{"r":3,"s":"weekend","h":15,"v":0.0104,"lo":0.0099,"hi":0.0109},
{"r":3,"s":"weekend","h":16,"v":0.0093,"lo":0.0088,"hi":0.0098},
{"r":3,"s":"weekend","h":17,"v":0.0081,"lo":0.0076,"hi":0.0086},
{"r":3,"s":"weekend","h":18,"v":0.0073,"lo":0.0068,"hi":0.0078},
{"r":3,"s":"weekend","h":19,"v":0.0073,"lo":0.0068,"hi":0.0078},
{"r":3,"s":"weekend","h":20,"v":0.0081,"lo":0.0076,"hi":0.0086},
{"r":3,"s":"weekend","h":21,"v":0.0089,"lo":0.0084,"hi":0.0094},
{"r":3,"s":"weekend","h":22,"v":0.0092,"lo":0.0087,"hi":0.0097},
{"r":3,"s":"weekend","h":23,"v":0.0081,"lo":0.0076,"hi":0.0086},
{"r":3,"s":"weekend","h":23.8,"v":0.0065,"lo":0.0060,"hi":0.0070},
{"r":3,"s":"summer","h":0,"v":0.0071,"lo":0.0060,"hi":0.0082},
{"r":3,"s":"summer","h":1,"v":0.0061,"lo":0.0051,"hi":0.0071},
{"r":3,"s":"summer","h":2,"v":0.0050,"lo":0.0040,"hi":0.0060},
{"r":3,"s":"summer","h":3,"v":0.0036,"lo":0.0027,"hi":0.0045},
{"r":3,"s":"summer","h":4,"v":0.0033,"lo":0.0024,"hi":0.0042},
{"r":3,"s":"summer","h":5,"v":0.0031,"lo":0.0022,"hi":0.0040},
{"r":3,"s":"summer","h":6,"v":0.0030,"lo":0.0021,"hi":0.0039},
{"r":3,"s":"summer","h":6.5,"v":0.0032,"lo":0.0023,"hi":0.0041},
{"r":3,"s":"summer","h":7,"v":0.0042,"lo":0.0032,"hi":0.0052},
{"r":3,"s":"summer","h":7.5,"v":0.0057,"lo":0.0046,"hi":0.0068},
{"r":3,"s":"summer","h":8,"v":0.0085,"lo":0.0072,"hi":0.0098},
{"r":3,"s":"summer","h":8.5,"v":0.0108,"lo":0.0092,"hi":0.0124},
{"r":3,"s":"summer","h":9,"v":0.0124,"lo":0.0105,"hi":0.0143},
{"r":3,"s":"summer","h":10,"v":0.0139,"lo":0.0117,"hi":0.0161},
{"r":3,"s":"summer","h":11,"v":0.0147,"lo":0.0125,"hi":0.0169},
{"r":3,"s":"summer","h":12,"v":0.0147,"lo":0.0126,"hi":0.0168},
{"r":3,"s":"summer","h":12.5,"v":0.0143,"lo":0.0123,"hi":0.0163},
{"r":3,"s":"summer","h":13,"v":0.0136,"lo":0.0118,"hi":0.0154},
{"r":3,"s":"summer","h":14,"v":0.0128,"lo":0.0112,"hi":0.0144},
{"r":3,"s":"summer","h":15,"v":0.0112,"lo":0.0098,"hi":0.0126},
{"r":3,"s":"summer","h":16,"v":0.0106,"lo":0.0093,"hi":0.0119},
{"r":3,"s":"summer","h":17,"v":0.0096,"lo":0.0084,"hi":0.0108},
{"r":3,"s":"summer","h":18,"v":0.0091,"lo":0.0080,"hi":0.0102},
{"r":3,"s":"summer","h":19,"v":0.0091,"lo":0.0080,"hi":0.0102},
{"r":3,"s":"summer","h":20,"v":0.0095,"lo":0.0084,"hi":0.0106},
{"r":3,"s":"summer","h":21,"v":0.0100,"lo":0.0088,"hi":0.0112},
{"r":3,"s":"summer","h":21.5,"v":0.0106,"lo":0.0094,"hi":0.0118},
{"r":3,"s":"summer","h":22,"v":0.0106,"lo":0.0094,"hi":0.0118},
{"r":3,"s":"summer","h":23,"v":0.0093,"lo":0.0082,"hi":0.0104},
{"r":3,"s":"summer","h":23.8,"v":0.0083,"lo":0.0073,"hi":0.0093},
{"r":3,"s":"winter","h":0,"v":0.0061,"lo":0.0057,"hi":0.0065},
{"r":3,"s":"winter","h":1,"v":0.0048,"lo":0.0044,"hi":0.0052},
{"r":3,"s":"winter","h":2,"v":0.0035,"lo":0.0031,"hi":0.0039},
{"r":3,"s":"winter","h":3,"v":0.0028,"lo":0.0024,"hi":0.0032},
{"r":3,"s":"winter","h":4,"v":0.0024,"lo":0.0020,"hi":0.0028},
{"r":3,"s":"winter","h":5,"v":0.0020,"lo":0.0016,"hi":0.0024},
{"r":3,"s":"winter","h":6,"v":0.0018,"lo":0.0014,"hi":0.0022},
{"r":3,"s":"winter","h":6.5,"v":0.0020,"lo":0.0016,"hi":0.0024},
{"r":3,"s":"winter","h":7,"v":0.0030,"lo":0.0026,"hi":0.0034},
{"r":3,"s":"winter","h":7.5,"v":0.0057,"lo":0.0052,"hi":0.0062},
{"r":3,"s":"winter","h":8,"v":0.0096,"lo":0.0089,"hi":0.0103},
{"r":3,"s":"winter","h":8.5,"v":0.0136,"lo":0.0127,"hi":0.0145},
{"r":3,"s":"winter","h":9,"v":0.0163,"lo":0.0152,"hi":0.0174},
{"r":3,"s":"winter","h":10,"v":0.0177,"lo":0.0165,"hi":0.0189},
{"r":3,"s":"winter","h":11,"v":0.0185,"lo":0.0173,"hi":0.0197},
{"r":3,"s":"winter","h":11.5,"v":0.0186,"lo":0.0174,"hi":0.0198},
{"r":3,"s":"winter","h":12,"v":0.0179,"lo":0.0168,"hi":0.0190},
{"r":3,"s":"winter","h":13,"v":0.0147,"lo":0.0138,"hi":0.0156},
{"r":3,"s":"winter","h":14,"v":0.0130,"lo":0.0122,"hi":0.0138},
{"r":3,"s":"winter","h":15,"v":0.0118,"lo":0.0111,"hi":0.0125},
{"r":3,"s":"winter","h":16,"v":0.0108,"lo":0.0102,"hi":0.0114},
{"r":3,"s":"winter","h":17,"v":0.0096,"lo":0.0091,"hi":0.0101},
{"r":3,"s":"winter","h":18,"v":0.0083,"lo":0.0078,"hi":0.0088},
{"r":3,"s":"winter","h":19,"v":0.0079,"lo":0.0074,"hi":0.0084},
{"r":3,"s":"winter","h":20,"v":0.0087,"lo":0.0082,"hi":0.0092},
{"r":3,"s":"winter","h":21,"v":0.0095,"lo":0.0090,"hi":0.0100},
{"r":3,"s":"winter","h":21.5,"v":0.0096,"lo":0.0091,"hi":0.0101},
{"r":3,"s":"winter","h":22,"v":0.0089,"lo":0.0084,"hi":0.0094},
{"r":3,"s":"winter","h":23,"v":0.0077,"lo":0.0073,"hi":0.0081},
{"r":3,"s":"winter","h":23.8,"v":0.0064,"lo":0.0060,"hi":0.0068},
{"r":3,"s":"St. John's Day","h":0.3,"v":0.0032},
{"r":3,"s":"St. John's Day","h":1,"v":0.0030},
{"r":3,"s":"St. John's Day","h":2,"v":0.0020},
{"r":3,"s":"St. John's Day","h":3,"v":0.0016},
{"r":3,"s":"St. John's Day","h":4,"v":0.0012},
{"r":3,"s":"St. John's Day","h":5,"v":0.0011},
{"r":3,"s":"St. John's Day","h":6,"v":0.0009},
{"r":3,"s":"St. John's Day","h":6.5,"v":0.0007},
{"r":3,"s":"St. John's Day","h":7,"v":0.0014},
{"r":3,"s":"St. John's Day","h":7.5,"v":0.0022},
{"r":3,"s":"St. John's Day","h":8,"v":0.0026},
{"r":3,"s":"St. John's Day","h":9,"v":0.0030},
{"r":3,"s":"St. John's Day","h":9.5,"v":0.0046},
{"r":3,"s":"St. John's Day","h":10,"v":0.0065},
{"r":3,"s":"St. John's Day","h":10.5,"v":0.0085},
{"r":3,"s":"St. John's Day","h":11,"v":0.0104},
{"r":3,"s":"St. John's Day","h":11.5,"v":0.0116},
{"r":3,"s":"St. John's Day","h":12,"v":0.0122},
{"r":3,"s":"St. John's Day","h":12.5,"v":0.0124},
{"r":3,"s":"St. John's Day","h":13,"v":0.0118},
{"r":3,"s":"St. John's Day","h":14,"v":0.0100},
{"r":3,"s":"St. John's Day","h":15,"v":0.0089},
{"r":3,"s":"St. John's Day","h":16,"v":0.0075},
{"r":3,"s":"St. John's Day","h":17,"v":0.0069},
{"r":3,"s":"St. John's Day","h":18,"v":0.0069},
{"r":3,"s":"St. John's Day","h":19,"v":0.0069},
{"r":3,"s":"St. John's Day","h":20,"v":0.0073},
{"r":3,"s":"St. John's Day","h":21,"v":0.0077},
{"r":3,"s":"St. John's Day","h":21.5,"v":0.0091},
{"r":3,"s":"St. John's Day","h":22,"v":0.0098},
{"r":3,"s":"St. John's Day","h":22.5,"v":0.0096},
{"r":3,"s":"St. John's Day","h":23,"v":0.0087},
{"r":3,"s":"St. John's Day","h":23.6,"v":0.0071},
{"r":3,"s":"Christmas Day","h":0,"v":0.0071},
{"r":3,"s":"Christmas Day","h":0.7,"v":0.0067},
{"r":3,"s":"Christmas Day","h":1.5,"v":0.0069},
{"r":3,"s":"Christmas Day","h":2,"v":0.0069},
{"r":3,"s":"Christmas Day","h":3,"v":0.0055},
{"r":3,"s":"Christmas Day","h":3.5,"v":0.0050},
{"r":3,"s":"Christmas Day","h":4.5,"v":0.0040},
{"r":3,"s":"Christmas Day","h":5.5,"v":0.0036},
{"r":3,"s":"Christmas Day","h":6.5,"v":0.0030},
{"r":3,"s":"Christmas Day","h":7.5,"v":0.0034},
{"r":3,"s":"Christmas Day","h":8.5,"v":0.0032},
{"r":3,"s":"Christmas Day","h":9,"v":0.0038},
{"r":3,"s":"Christmas Day","h":10,"v":0.0073},
{"r":3,"s":"Christmas Day","h":10.5,"v":0.0112},
{"r":3,"s":"Christmas Day","h":11,"v":0.0143},
{"r":3,"s":"Christmas Day","h":12,"v":0.0165},
{"r":3,"s":"Christmas Day","h":12.5,"v":0.0178},
{"r":3,"s":"Christmas Day","h":13,"v":0.0182},
{"r":3,"s":"Christmas Day","h":13.5,"v":0.0171},
{"r":3,"s":"Christmas Day","h":14,"v":0.0143},
{"r":3,"s":"Christmas Day","h":14.5,"v":0.0112},
{"r":3,"s":"Christmas Day","h":15,"v":0.0089},
{"r":3,"s":"Christmas Day","h":16,"v":0.0071},
{"r":3,"s":"Christmas Day","h":17,"v":0.0067},
{"r":3,"s":"Christmas Day","h":18,"v":0.0061},
{"r":3,"s":"Christmas Day","h":19,"v":0.0055},
{"r":3,"s":"Christmas Day","h":19.5,"v":0.0057},
{"r":3,"s":"Christmas Day","h":20,"v":0.0069},
{"r":3,"s":"Christmas Day","h":21,"v":0.0072},
{"r":3,"s":"Christmas Day","h":22,"v":0.0073},
{"r":3,"s":"Christmas Day","h":23,"v":0.0072},
{"r":3,"s":"Christmas Day","h":23.6,"v":0.0065},
{"r":3,"s":"New Year’s Day","h":0,"v":0.0057},
{"r":3,"s":"New Year’s Day","h":1,"v":0.0052},
{"r":3,"s":"New Year’s Day","h":2,"v":0.0057},
{"r":3,"s":"New Year’s Day","h":3,"v":0.0046},
{"r":3,"s":"New Year’s Day","h":4,"v":0.0042},
{"r":3,"s":"New Year’s Day","h":5,"v":0.0038},
{"r":3,"s":"New Year’s Day","h":6,"v":0.0034},
{"r":3,"s":"New Year’s Day","h":7,"v":0.0036},
{"r":3,"s":"New Year’s Day","h":8,"v":0.0038},
{"r":3,"s":"New Year’s Day","h":9,"v":0.0048},
{"r":3,"s":"New Year’s Day","h":10,"v":0.0069},
{"r":3,"s":"New Year’s Day","h":10.5,"v":0.0089},
{"r":3,"s":"New Year’s Day","h":11,"v":0.0104},
{"r":3,"s":"New Year’s Day","h":12,"v":0.0114},
{"r":3,"s":"New Year’s Day","h":12.5,"v":0.0116},
{"r":3,"s":"New Year’s Day","h":13,"v":0.0112},
{"r":3,"s":"New Year’s Day","h":14,"v":0.0096},
{"r":3,"s":"New Year’s Day","h":15,"v":0.0089},
{"r":3,"s":"New Year’s Day","h":16,"v":0.0077},
{"r":3,"s":"New Year’s Day","h":17,"v":0.0071},
{"r":3,"s":"New Year’s Day","h":18,"v":0.0069},
{"r":3,"s":"New Year’s Day","h":19,"v":0.0067},
{"r":3,"s":"New Year’s Day","h":20,"v":0.0069},
{"r":3,"s":"New Year’s Day","h":21,"v":0.0071},
{"r":3,"s":"New Year’s Day","h":22,"v":0.0074},
{"r":3,"s":"New Year’s Day","h":23,"v":0.0073},
{"r":3,"s":"New Year’s Day","h":23.6,"v":0.0067}
]},
"columns": 3,
"spacing": {"row": 39, "column": 99},
"bounds": "flush",
"concat": [
{"width": 322, "height": 184, "title": "Weekday vs. Weekend", "data": {"name": "d"},
 "transform": [{"filter": {"field": "r", "equal": 1}}, {"filter": {"field": "s", "oneOf": ["weekday","weekend"]}}],
 "layer": [
  {"transform": [{"filter": "isValid(datum.lo)"}], "mark": {"type": "area", "opacity": 0.25, "interpolate": "monotone"},
   "encoding": {"x": {"field": "h", "type": "quantitative", "scale": {"domain": [-1.1, 24.95], "nice": false, "zero": false}, "axis": {"values": [0,3,6,9,12,15,18,21,24], "labelExpr": "(datum.value % 24 < 10 ? '0' : '') + (datum.value % 24)", "title": null}},
    "y": {"field": "lo", "type": "quantitative", "scale": {"domain": [0.0068, 0.0445], "nice": false, "zero": false}, "axis": {"values": [0.01,0.02,0.03,0.04], "format": ".2f", "title": "S-Low", "titlePadding": 36}},
    "y2": {"field": "hi"},
    "fill": {"field": "s", "type": "nominal", "scale": {"domain": ["weekday","weekend","summer","winter"], "range": ["#4878CF","#EE854A","#5E4A5E","#22A7B0"]}, "legend": null}}},
  {"mark": {"type": "line", "strokeWidth": 2.2, "interpolate": "monotone"},
   "encoding": {"x": {"field": "h", "type": "quantitative"},
    "y": {"field": "v", "type": "quantitative", "scale": {"domain": [0.0068, 0.0445], "nice": false, "zero": false}, "axis": {"values": [0.01,0.02,0.03,0.04], "format": ".2f", "title": "S-Low", "titlePadding": 36}},
    "color": {"field": "s", "type": "nominal", "scale": {"domain": ["weekday","weekend","summer","winter","St. John's Day","Christmas Day","New Year’s Day"], "range": ["#4878CF","#EE854A","#5E4A5E","#22A7B0","#E64A4D","#E64A4D","#E64A4D"]}, "legend": {"title": null, "orient": "none", "legendX": -78, "legendY": -63, "direction": "horizontal", "columns": 7, "symbolType": "stroke", "symbolSize": 1225, "symbolStrokeWidth": 2.5, "labelFontSize": 17.5, "labelColor": "#262626", "labelOffset": 14, "columnPadding": 37, "padding": 5, "fillColor": "#EEEEF4", "strokeColor": "#CCCCCC", "cornerRadius": 4, "labelLimit": 300}},
    "strokeDash": {"field": "s", "type": "nominal", "scale": {"domain": ["weekday","weekend","summer","winter","St. John's Day","Christmas Day","New Year’s Day"], "range": [[1,0],[12,4,2,4],[1,0],[12,4,2,4],[12,4,2,4],[8,4],[2,3]]}, "legend": {"title": null, "orient": "none", "legendX": -78, "legendY": -63, "direction": "horizontal", "columns": 7, "symbolType": "stroke", "symbolSize": 1225, "symbolStrokeWidth": 2.5, "labelFontSize": 17.5, "labelColor": "#262626", "labelOffset": 14, "columnPadding": 37, "padding": 5, "fillColor": "#EEEEF4", "strokeColor": "#CCCCCC", "cornerRadius": 4, "labelLimit": 300}}}}
 ]},
{"width": 322, "height": 184, "title": "Summer vs. Winter", "data": {"name": "d"},
 "transform": [{"filter": {"field": "r", "equal": 1}}, {"filter": {"field": "s", "oneOf": ["summer","winter"]}}],
 "layer": [
  {"transform": [{"filter": "isValid(datum.lo)"}], "mark": {"type": "area", "opacity": 0.25, "interpolate": "monotone"},
   "encoding": {"x": {"field": "h", "type": "quantitative", "scale": {"domain": [-1.1, 24.95], "nice": false, "zero": false}, "axis": {"values": [0,3,6,9,12,15,18,21,24], "labelExpr": "(datum.value % 24 < 10 ? '0' : '') + (datum.value % 24)", "title": null}},
    "y": {"field": "lo", "type": "quantitative", "scale": {"domain": [0.0068, 0.0445], "nice": false, "zero": false}, "axis": {"values": [0.01,0.02,0.03,0.04], "format": ".2f", "title": null}},
    "y2": {"field": "hi"},
    "fill": {"field": "s", "type": "nominal", "scale": {"domain": ["weekday","weekend","summer","winter"], "range": ["#4878CF","#EE854A","#5E4A5E","#22A7B0"]}, "legend": null}}},
  {"mark": {"type": "line", "strokeWidth": 2.2, "interpolate": "monotone"},
   "encoding": {"x": {"field": "h", "type": "quantitative"},
    "y": {"field": "v", "type": "quantitative", "scale": {"domain": [0.0068, 0.0445], "nice": false, "zero": false}, "axis": {"values": [0.01,0.02,0.03,0.04], "format": ".2f", "title": null}},
    "color": {"field": "s", "type": "nominal", "scale": {"domain": ["weekday","weekend","summer","winter","St. John's Day","Christmas Day","New Year’s Day"], "range": ["#4878CF","#EE854A","#5E4A5E","#22A7B0","#E64A4D","#E64A4D","#E64A4D"]}},
    "strokeDash": {"field": "s", "type": "nominal", "scale": {"domain": ["weekday","weekend","summer","winter","St. John's Day","Christmas Day","New Year’s Day"], "range": [[1,0],[12,4,2,4],[1,0],[12,4,2,4],[12,4,2,4],[8,4],[2,3]]}}}}
 ]},
{"width": 322, "height": 184, "title": "Weekday vs. Holidays", "data": {"name": "d"},
 "transform": [{"filter": {"field": "r", "equal": 1}}, {"filter": {"field": "s", "oneOf": ["weekday","St. John's Day","Christmas Day","New Year’s Day"]}}],
 "layer": [
  {"transform": [{"filter": "isValid(datum.lo)"}], "mark": {"type": "area", "opacity": 0.25, "interpolate": "monotone"},
   "encoding": {"x": {"field": "h", "type": "quantitative", "scale": {"domain": [-1.1, 24.95], "nice": false, "zero": false}, "axis": {"values": [0,3,6,9,12,15,18,21,24], "labelExpr": "(datum.value % 24 < 10 ? '0' : '') + (datum.value % 24)", "title": null}},
    "y": {"field": "lo", "type": "quantitative", "scale": {"domain": [0.0068, 0.0445], "nice": false, "zero": false}, "axis": {"values": [0.01,0.02,0.03,0.04], "format": ".2f", "title": null}},
    "y2": {"field": "hi"},
    "fill": {"field": "s", "type": "nominal", "scale": {"domain": ["weekday","weekend","summer","winter"], "range": ["#4878CF","#EE854A","#5E4A5E","#22A7B0"]}, "legend": null}}},
  {"mark": {"type": "line", "strokeWidth": 2.2, "interpolate": "monotone"},
   "encoding": {"x": {"field": "h", "type": "quantitative"},
    "y": {"field": "v", "type": "quantitative", "scale": {"domain": [0.0068, 0.0445], "nice": false, "zero": false}, "axis": {"values": [0.01,0.02,0.03,0.04], "format": ".2f", "title": null}},
    "color": {"field": "s", "type": "nominal", "scale": {"domain": ["weekday","weekend","summer","winter","St. John's Day","Christmas Day","New Year’s Day"], "range": ["#4878CF","#EE854A","#5E4A5E","#22A7B0","#E64A4D","#E64A4D","#E64A4D"]}},
    "strokeDash": {"field": "s", "type": "nominal", "scale": {"domain": ["weekday","weekend","summer","winter","St. John's Day","Christmas Day","New Year’s Day"], "range": [[1,0],[12,4,2,4],[1,0],[12,4,2,4],[12,4,2,4],[8,4],[2,3]]}}}}
 ]},
{"width": 322, "height": 184, "data": {"name": "d"},
 "transform": [{"filter": {"field": "r", "equal": 2}}, {"filter": {"field": "s", "oneOf": ["weekday","weekend"]}}],
 "layer": [
  {"transform": [{"filter": "isValid(datum.lo)"}], "mark": {"type": "area", "opacity": 0.25, "interpolate": "monotone"},
   "encoding": {"x": {"field": "h", "type": "quantitative", "scale": {"domain": [-1.1, 24.95], "nice": false, "zero": false}, "axis": {"values": [0,3,6,9,12,15,18,21,24], "labelExpr": "(datum.value % 24 < 10 ? '0' : '') + (datum.value % 24)", "title": null}},
    "y": {"field": "lo", "type": "quantitative", "scale": {"domain": [0.0039, 0.0394], "nice": false, "zero": false}, "axis": {"values": [0.01,0.02,0.03], "format": ".2f", "title": ["S-Med", "Flow (m³/s)"], "titlePadding": 12}},
    "y2": {"field": "hi"},
    "fill": {"field": "s", "type": "nominal", "scale": {"domain": ["weekday","weekend","summer","winter"], "range": ["#4878CF","#EE854A","#5E4A5E","#22A7B0"]}, "legend": null}}},
  {"mark": {"type": "line", "strokeWidth": 2.2, "interpolate": "monotone"},
   "encoding": {"x": {"field": "h", "type": "quantitative"},
    "y": {"field": "v", "type": "quantitative", "scale": {"domain": [0.0039, 0.0394], "nice": false, "zero": false}, "axis": {"values": [0.01,0.02,0.03], "format": ".2f", "title": ["S-Med", "Flow (m³/s)"], "titlePadding": 12}},
    "color": {"field": "s", "type": "nominal", "scale": {"domain": ["weekday","weekend","summer","winter","St. John's Day","Christmas Day","New Year’s Day"], "range": ["#4878CF","#EE854A","#5E4A5E","#22A7B0","#E64A4D","#E64A4D","#E64A4D"]}},
    "strokeDash": {"field": "s", "type": "nominal", "scale": {"domain": ["weekday","weekend","summer","winter","St. John's Day","Christmas Day","New Year’s Day"], "range": [[1,0],[12,4,2,4],[1,0],[12,4,2,4],[12,4,2,4],[8,4],[2,3]]}}}}
 ]},
{"width": 322, "height": 184, "data": {"name": "d"},
 "transform": [{"filter": {"field": "r", "equal": 2}}, {"filter": {"field": "s", "oneOf": ["summer","winter"]}}],
 "layer": [
  {"transform": [{"filter": "isValid(datum.lo)"}], "mark": {"type": "area", "opacity": 0.25, "interpolate": "monotone"},
   "encoding": {"x": {"field": "h", "type": "quantitative", "scale": {"domain": [-1.1, 24.95], "nice": false, "zero": false}, "axis": {"values": [0,3,6,9,12,15,18,21,24], "labelExpr": "(datum.value % 24 < 10 ? '0' : '') + (datum.value % 24)", "title": null}},
    "y": {"field": "lo", "type": "quantitative", "scale": {"domain": [0.0039, 0.0394], "nice": false, "zero": false}, "axis": {"values": [0.01,0.02,0.03], "format": ".2f", "title": null}},
    "y2": {"field": "hi"},
    "fill": {"field": "s", "type": "nominal", "scale": {"domain": ["weekday","weekend","summer","winter"], "range": ["#4878CF","#EE854A","#5E4A5E","#22A7B0"]}, "legend": null}}},
  {"mark": {"type": "line", "strokeWidth": 2.2, "interpolate": "monotone"},
   "encoding": {"x": {"field": "h", "type": "quantitative"},
    "y": {"field": "v", "type": "quantitative", "scale": {"domain": [0.0039, 0.0394], "nice": false, "zero": false}, "axis": {"values": [0.01,0.02,0.03], "format": ".2f", "title": null}},
    "color": {"field": "s", "type": "nominal", "scale": {"domain": ["weekday","weekend","summer","winter","St. John's Day","Christmas Day","New Year’s Day"], "range": ["#4878CF","#EE854A","#5E4A5E","#22A7B0","#E64A4D","#E64A4D","#E64A4D"]}},
    "strokeDash": {"field": "s", "type": "nominal", "scale": {"domain": ["weekday","weekend","summer","winter","St. John's Day","Christmas Day","New Year’s Day"], "range": [[1,0],[12,4,2,4],[1,0],[12,4,2,4],[12,4,2,4],[8,4],[2,3]]}}}}
 ]},
{"width": 322, "height": 184, "data": {"name": "d"},
 "transform": [{"filter": {"field": "r", "equal": 2}}, {"filter": {"field": "s", "oneOf": ["weekday","St. John's Day","Christmas Day","New Year’s Day"]}}],
 "layer": [
  {"transform": [{"filter": "isValid(datum.lo)"}], "mark": {"type": "area", "opacity": 0.25, "interpolate": "monotone"},
   "encoding": {"x": {"field": "h", "type": "quantitative", "scale": {"domain": [-1.1, 24.95], "nice": false, "zero": false}, "axis": {"values": [0,3,6,9,12,15,18,21,24], "labelExpr": "(datum.value % 24 < 10 ? '0' : '') + (datum.value % 24)", "title": null}},
    "y": {"field": "lo", "type": "quantitative", "scale": {"domain": [0.0039, 0.0394], "nice": false, "zero": false}, "axis": {"values": [0.01,0.02,0.03], "format": ".2f", "title": null}},
    "y2": {"field": "hi"},
    "fill": {"field": "s", "type": "nominal", "scale": {"domain": ["weekday","weekend","summer","winter"], "range": ["#4878CF","#EE854A","#5E4A5E","#22A7B0"]}, "legend": null}}},
  {"mark": {"type": "line", "strokeWidth": 2.2, "interpolate": "monotone"},
   "encoding": {"x": {"field": "h", "type": "quantitative"},
    "y": {"field": "v", "type": "quantitative", "scale": {"domain": [0.0039, 0.0394], "nice": false, "zero": false}, "axis": {"values": [0.01,0.02,0.03], "format": ".2f", "title": null}},
    "color": {"field": "s", "type": "nominal", "scale": {"domain": ["weekday","weekend","summer","winter","St. John's Day","Christmas Day","New Year’s Day"], "range": ["#4878CF","#EE854A","#5E4A5E","#22A7B0","#E64A4D","#E64A4D","#E64A4D"]}},
    "strokeDash": {"field": "s", "type": "nominal", "scale": {"domain": ["weekday","weekend","summer","winter","St. John's Day","Christmas Day","New Year’s Day"], "range": [[1,0],[12,4,2,4],[1,0],[12,4,2,4],[12,4,2,4],[8,4],[2,3]]}}}}
 ]},
{"width": 322, "height": 184, "data": {"name": "d"},
 "transform": [{"filter": {"field": "r", "equal": 3}}, {"filter": {"field": "s", "oneOf": ["weekday","weekend"]}}],
 "layer": [
  {"transform": [{"filter": "isValid(datum.lo)"}], "mark": {"type": "area", "opacity": 0.25, "interpolate": "monotone"},
   "encoding": {"x": {"field": "h", "type": "quantitative", "scale": {"domain": [-1.1, 24.95], "nice": false, "zero": false}, "axis": {"values": [0,3,6,9,12,15,18,21,24], "labelExpr": "(datum.value % 24 < 10 ? '0' : '') + (datum.value % 24)", "title": null}},
    "y": {"field": "lo", "type": "quantitative", "scale": {"domain": [-0.0003, 0.0213], "nice": false, "zero": false}, "axis": {"values": [0,0.01,0.02], "format": ".2f", "title": "S-High", "titlePadding": 36}},
    "y2": {"field": "hi"},
    "fill": {"field": "s", "type": "nominal", "scale": {"domain": ["weekday","weekend","summer","winter"], "range": ["#4878CF","#EE854A","#5E4A5E","#22A7B0"]}, "legend": null}}},
  {"mark": {"type": "line", "strokeWidth": 2.2, "interpolate": "monotone"},
   "encoding": {"x": {"field": "h", "type": "quantitative"},
    "y": {"field": "v", "type": "quantitative", "scale": {"domain": [-0.0003, 0.0213], "nice": false, "zero": false}, "axis": {"values": [0,0.01,0.02], "format": ".2f", "title": "S-High", "titlePadding": 36}},
    "color": {"field": "s", "type": "nominal", "scale": {"domain": ["weekday","weekend","summer","winter","St. John's Day","Christmas Day","New Year’s Day"], "range": ["#4878CF","#EE854A","#5E4A5E","#22A7B0","#E64A4D","#E64A4D","#E64A4D"]}},
    "strokeDash": {"field": "s", "type": "nominal", "scale": {"domain": ["weekday","weekend","summer","winter","St. John's Day","Christmas Day","New Year’s Day"], "range": [[1,0],[12,4,2,4],[1,0],[12,4,2,4],[12,4,2,4],[8,4],[2,3]]}}}}
 ]},
{"width": 322, "height": 184, "data": {"name": "d"},
 "transform": [{"filter": {"field": "r", "equal": 3}}, {"filter": {"field": "s", "oneOf": ["summer","winter"]}}],
 "layer": [
  {"transform": [{"filter": "isValid(datum.lo)"}], "mark": {"type": "area", "opacity": 0.25, "interpolate": "monotone"},
   "encoding": {"x": {"field": "h", "type": "quantitative", "scale": {"domain": [-1.1, 24.95], "nice": false, "zero": false}, "axis": {"values": [0,3,6,9,12,15,18,21,24], "labelExpr": "(datum.value % 24 < 10 ? '0' : '') + (datum.value % 24)", "title": "Hour", "titlePadding": 4}},
    "y": {"field": "lo", "type": "quantitative", "scale": {"domain": [-0.0003, 0.0213], "nice": false, "zero": false}, "axis": {"values": [0,0.01,0.02], "format": ".2f", "title": null}},
    "y2": {"field": "hi"},
    "fill": {"field": "s", "type": "nominal", "scale": {"domain": ["weekday","weekend","summer","winter"], "range": ["#4878CF","#EE854A","#5E4A5E","#22A7B0"]}, "legend": null}}},
  {"mark": {"type": "line", "strokeWidth": 2.2, "interpolate": "monotone"},
   "encoding": {"x": {"field": "h", "type": "quantitative", "axis": {"values": [0,3,6,9,12,15,18,21,24], "labelExpr": "(datum.value % 24 < 10 ? '0' : '') + (datum.value % 24)", "title": "Hour", "titlePadding": 4}},
    "y": {"field": "v", "type": "quantitative", "scale": {"domain": [-0.0003, 0.0213], "nice": false, "zero": false}, "axis": {"values": [0,0.01,0.02], "format": ".2f", "title": null}},
    "color": {"field": "s", "type": "nominal", "scale": {"domain": ["weekday","weekend","summer","winter","St. John's Day","Christmas Day","New Year’s Day"], "range": ["#4878CF","#EE854A","#5E4A5E","#22A7B0","#E64A4D","#E64A4D","#E64A4D"]}},
    "strokeDash": {"field": "s", "type": "nominal", "scale": {"domain": ["weekday","weekend","summer","winter","St. John's Day","Christmas Day","New Year’s Day"], "range": [[1,0],[12,4,2,4],[1,0],[12,4,2,4],[12,4,2,4],[8,4],[2,3]]}}}}
 ]},
{"width": 322, "height": 184, "data": {"name": "d"},
 "transform": [{"filter": {"field": "r", "equal": 3}}, {"filter": {"field": "s", "oneOf": ["weekday","St. John's Day","Christmas Day","New Year’s Day"]}}],
 "layer": [
  {"transform": [{"filter": "isValid(datum.lo)"}], "mark": {"type": "area", "opacity": 0.25, "interpolate": "monotone"},
   "encoding": {"x": {"field": "h", "type": "quantitative", "scale": {"domain": [-1.1, 24.95], "nice": false, "zero": false}, "axis": {"values": [0,3,6,9,12,15,18,21,24], "labelExpr": "(datum.value % 24 < 10 ? '0' : '') + (datum.value % 24)", "title": null}},
    "y": {"field": "lo", "type": "quantitative", "scale": {"domain": [-0.0003, 0.0213], "nice": false, "zero": false}, "axis": {"values": [0,0.01,0.02], "format": ".2f", "title": null}},
    "y2": {"field": "hi"},
    "fill": {"field": "s", "type": "nominal", "scale": {"domain": ["weekday","weekend","summer","winter"], "range": ["#4878CF","#EE854A","#5E4A5E","#22A7B0"]}, "legend": null}}},
  {"mark": {"type": "line", "strokeWidth": 2.2, "interpolate": "monotone"},
   "encoding": {"x": {"field": "h", "type": "quantitative"},
    "y": {"field": "v", "type": "quantitative", "scale": {"domain": [-0.0003, 0.0213], "nice": false, "zero": false}, "axis": {"values": [0,0.01,0.02], "format": ".2f", "title": null}},
    "color": {"field": "s", "type": "nominal", "scale": {"domain": ["weekday","weekend","summer","winter","St. John's Day","Christmas Day","New Year’s Day"], "range": ["#4878CF","#EE854A","#5E4A5E","#22A7B0","#E64A4D","#E64A4D","#E64A4D"]}},
    "strokeDash": {"field": "s", "type": "nominal", "scale": {"domain": ["weekday","weekend","summer","winter","St. John's Day","Christmas Day","New Year’s Day"], "range": [[1,0],[12,4,2,4],[1,0],[12,4,2,4],[12,4,2,4],[8,4],[2,3]]}}}}
 ]}
]
}
